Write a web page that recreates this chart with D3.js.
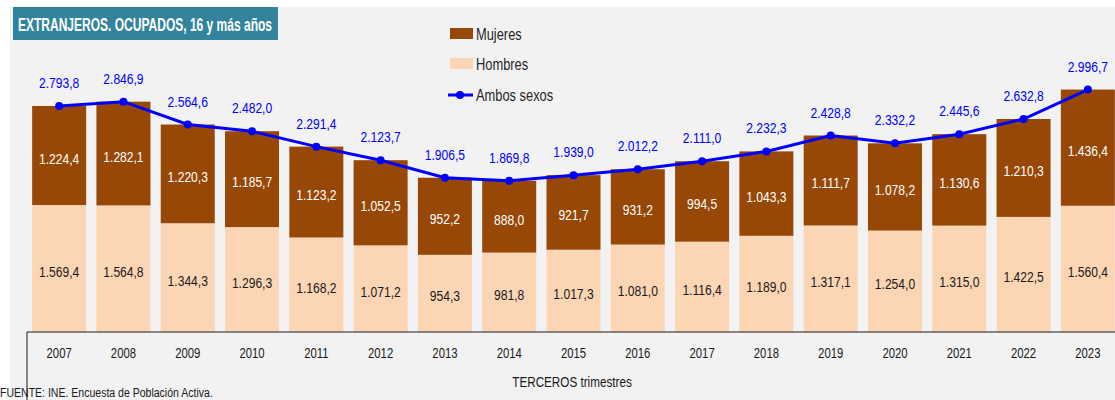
<!DOCTYPE html>
<html>
<head>
<meta charset="utf-8">
<script src="https://cdn.jsdelivr.net/npm/d3@7"></script>
<style>
  html, body { margin: 0; padding: 0; background: #ffffff; }
  svg { display: block; }
  text { font-family: "Liberation Sans", Arial, sans-serif; }
</style>
</head>
<body>
<svg id="chart" width="1115" height="400"></svg>
<script>
// Employed foreign nationals aged 16+, third quarter of each year (thousands)
const years = ["2007","2008","2009","2010","2011","2012","2013","2014","2015","2016","2017","2018","2019","2020","2021","2022","2023"];
const hombres = [1569.4, 1564.8, 1344.3, 1296.3, 1168.2, 1071.2, 954.3, 981.8, 1017.3, 1081.0, 1116.4, 1189.0, 1317.1, 1254.0, 1315.0, 1422.5, 1560.4];
const mujeres = [1224.4, 1282.1, 1220.3, 1185.7, 1123.2, 1052.5, 952.2, 888.0, 921.7, 931.2, 994.5, 1043.3, 1111.7, 1078.2, 1130.6, 1210.3, 1436.4];
const ambos = [2793.8, 2846.9, 2564.6, 2482.0, 2291.4, 2123.7, 1906.5, 1869.8, 1939.0, 2012.2, 2111.0, 2232.3, 2428.8, 2332.2, 2445.6, 2632.8, 2996.7];

const titleText = "EXTRANJEROS. OCUPADOS, 16 y más años";
const xTitle = "TERCEROS trimestres";
const sourceText = "FUENTE: INE. Encuesta de Población Activa.";
const legendLabels = ["Mujeres", "Hombres", "Ambos sexos"];

const colMujeres = "#974706";
const colHombres = "#fcd5b5";
const colLine = "#0000ff";

const esLocale = d3.formatLocale({decimal: ",", thousands: ".", grouping: [3], currency: ["", " €"]});
const fmt = esLocale.format(",.1f");

// horizontal squeeze giving a condensed look to the sans-serif face
const NARROW = 0.78;
function placeNarrow(sel, fx, fy) {
  sel.attr("x", 0).attr("y", 0)
     .attr("transform", (d, i) => `translate(${fx(d, i)},${fy(d, i)}) scale(${NARROW},1)`);
}

const svg = d3.select("#chart");
const W = 1115, H = 400;

// panel background
svg.append("rect").attr("x", 10).attr("y", 7).attr("width", W - 10).attr("height", H - 7).attr("fill", "#f2f2f2");

const baseY = 332;
const x = d3.scaleBand().domain(years).range([27, 1120]).paddingInner(0.16).paddingOuter(0.08);
const y = d3.scaleLinear().domain([0, 3500]).range([baseY, baseY - 3500 * 0.0809]);
const cx = d => x(d.year) + x.bandwidth() / 2;

const rows = years.map((yr, i) => ({year: yr, h: hombres[i], m: mujeres[i], t: ambos[i]}));

// stacked bars
const g = svg.append("g");
g.selectAll("rect.hom").data(rows).join("rect").attr("class", "hom")
  .attr("x", d => x(d.year)).attr("width", x.bandwidth())
  .attr("y", d => y(d.h)).attr("height", d => y(0) - y(d.h))
  .attr("fill", colHombres);
g.selectAll("rect.muj").data(rows).join("rect").attr("class", "muj")
  .attr("x", d => x(d.year)).attr("width", x.bandwidth())
  .attr("y", d => y(d.h + d.m)).attr("height", d => y(d.h) - y(d.h + d.m))
  .attr("fill", colMujeres);

// segment labels
g.selectAll("text.lh").data(rows).join("text").attr("class", "lh")
  .call(placeNarrow, cx, d => (y(0) + y(d.h)) / 2 + 8)
  .attr("text-anchor", "middle").attr("font-size", 15.5).attr("fill", "#1a1a1a")
  .text(d => fmt(d.h));
g.selectAll("text.lm").data(rows).join("text").attr("class", "lm")
  .call(placeNarrow, cx, d => (y(d.h) + y(d.h + d.m)) / 2 + 8)
  .attr("text-anchor", "middle").attr("font-size", 15.5).attr("fill", "#ffffff")
  .text(d => fmt(d.m));

// axis frame
const axis = svg.append("g").attr("transform", `translate(0,${baseY})`)
  .call(d3.axisBottom(x).tickSize(0).tickPadding(15));
axis.select(".domain").attr("d", `M27,0H${W}`).attr("stroke", "#1a1a1a");
axis.selectAll(".tick text")
  .attr("font-size", 14.5).attr("fill", "#1a1a1a")
  .attr("font-family", "Liberation Sans, Arial, sans-serif")
  .attr("dy", null).attr("y", 26)
  .attr("transform", `scale(${NARROW},1)`);
svg.append("line").attr("x1", 27).attr("x2", 27).attr("y1", baseY).attr("y2", H).attr("stroke", "#1a1a1a");

// total line
const line = d3.line().x(cx).y(d => y(d.t));
svg.append("path").datum(rows).attr("d", line).attr("fill", "none")
  .attr("stroke", colLine).attr("stroke-width", 3);
svg.selectAll("circle.pt").data(rows).join("circle").attr("class", "pt")
  .attr("cx", cx).attr("cy", d => y(d.t))
  .attr("r", 4).attr("fill", colLine);
svg.selectAll("text.lt").data(rows).join("text").attr("class", "lt")
  .call(placeNarrow, cx, d => y(d.t) - 18)
  .attr("text-anchor", "middle").attr("font-size", 15.5).attr("fill", colLine)
  .text(d => fmt(d.t));

// title box
svg.append("rect").attr("x", 13).attr("y", 7).attr("width", 265).attr("height", 33).attr("fill", "#31849b");
svg.append("text").attr("x", 18).attr("y", 31).attr("font-size", 18.5).attr("font-weight", "bold")
  .attr("fill", "#ffffff").attr("textLength", 254).attr("lengthAdjust", "spacingAndGlyphs")
  .text(titleText);

// legend
const lg = svg.append("g");
lg.append("rect").attr("x", 450).attr("y", 28).attr("width", 23).attr("height", 11).attr("fill", colMujeres);
lg.append("rect").attr("x", 450).attr("y", 58).attr("width", 23).attr("height", 11).attr("fill", colHombres);
lg.append("line").attr("x1", 448).attr("x2", 473).attr("y1", 95).attr("y2", 95).attr("stroke", colLine).attr("stroke-width", 3);
lg.append("circle").attr("cx", 460).attr("cy", 95).attr("r", 4).attr("fill", colLine);
lg.selectAll("text").data(legendLabels).join("text")
  .call(placeNarrow, () => 476, (d, i) => [40, 70, 101][i])
  .attr("font-size", 16.5).attr("fill", "#262626").text(d => d);

// axis title and source
svg.append("text").datum(xTitle)
  .call(placeNarrow, () => 572, () => 387)
  .attr("text-anchor", "middle").attr("font-size", 15).attr("fill", "#1a1a1a").text(d => d);
svg.append("text").datum(sourceText)
  .call(placeNarrow, () => 0, () => 397)
  .attr("font-size", 13.5).attr("fill", "#1a1a1a").text(d => d);
</script>
</body>
</html>
